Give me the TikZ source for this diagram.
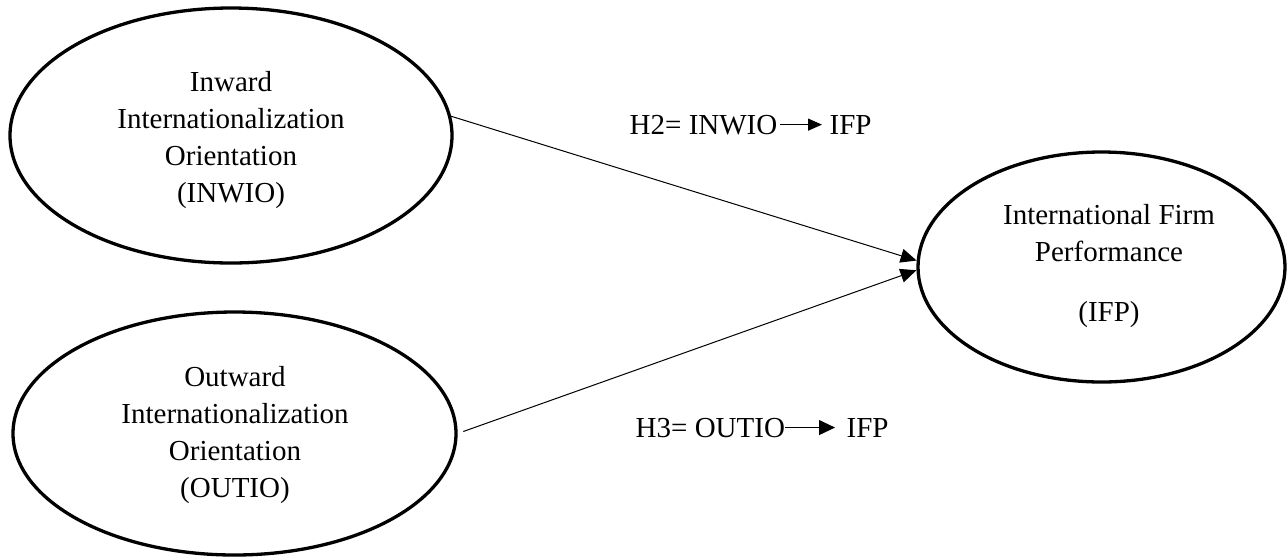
\documentclass[tikz,border=0pt]{standalone}
\usepackage{fontspec}
\setmainfont{Liberation Serif}
\usetikzlibrary{arrows.meta,shapes.geometric}
\tikzset{
  construct/.style={ellipse, draw, line width=3.3pt, inner sep=0pt},
  ctext/.style={font=\fontsize{29pt}{37pt}\selectfont, align=center, inner sep=0pt},
  lbl/.style={font=\fontsize{29pt}{37pt}\selectfont, inner sep=0pt, anchor=base west},
  conn/.style={line width=1pt, -{Triangle[length=16pt,width=14pt]}},
}
\begin{document}
\begin{tikzpicture}[x=1pt,y=-1pt]
\useasboundingbox (0,0) rectangle (1287,558);
% constructs
\node[construct, minimum width=442pt, minimum height=255pt] (e1) at (231,135.5) {};
\node[construct, minimum width=443pt, minimum height=243pt] (e2) at (234.5,433.5) {};
\node[construct, minimum width=367pt, minimum height=230pt] (e3) at (1101.5,267) {};
\node[ctext] (t1) at (231,140.2) {Inward\\Internationalization\\Orientation\\(INWIO)};
\node[ctext] (t2) at (235,434.6) {Outward\\Internationalization\\Orientation\\(OUTIO)};
\node[ctext] (t3) at (1109,266.2) {International Firm\\Performance\\[23pt](IFP)};
% hypotheses paths
\draw[conn] (e1.5.6) -- (e3.178.4);
\draw[conn, shorten <=6pt] (e2.0.9) -- (e3.181.9);
% hypothesis labels
\node[lbl] (h2a) at (629.5,134) {H2= INWIO};
\node[lbl] (h2b) at (829.5,134) {IFP};
\draw[line width=1.3pt, -{Triangle[length=14pt,width=12pt]}, shorten <=2pt, shorten >=7.5pt] (h2a.east) -- (h2a.east -| h2b.west);
\node[lbl] (h3a) at (635.5,437) {H3= OUTIO};
\node[lbl] (h3b) at (846.5,437) {IFP};
\draw[line width=1.1pt, -{Triangle[length=16pt,width=15pt]}, shorten >=11.5pt] (h3a.east) -- (h3a.east -| h3b.west);
\end{tikzpicture}
\end{document}
